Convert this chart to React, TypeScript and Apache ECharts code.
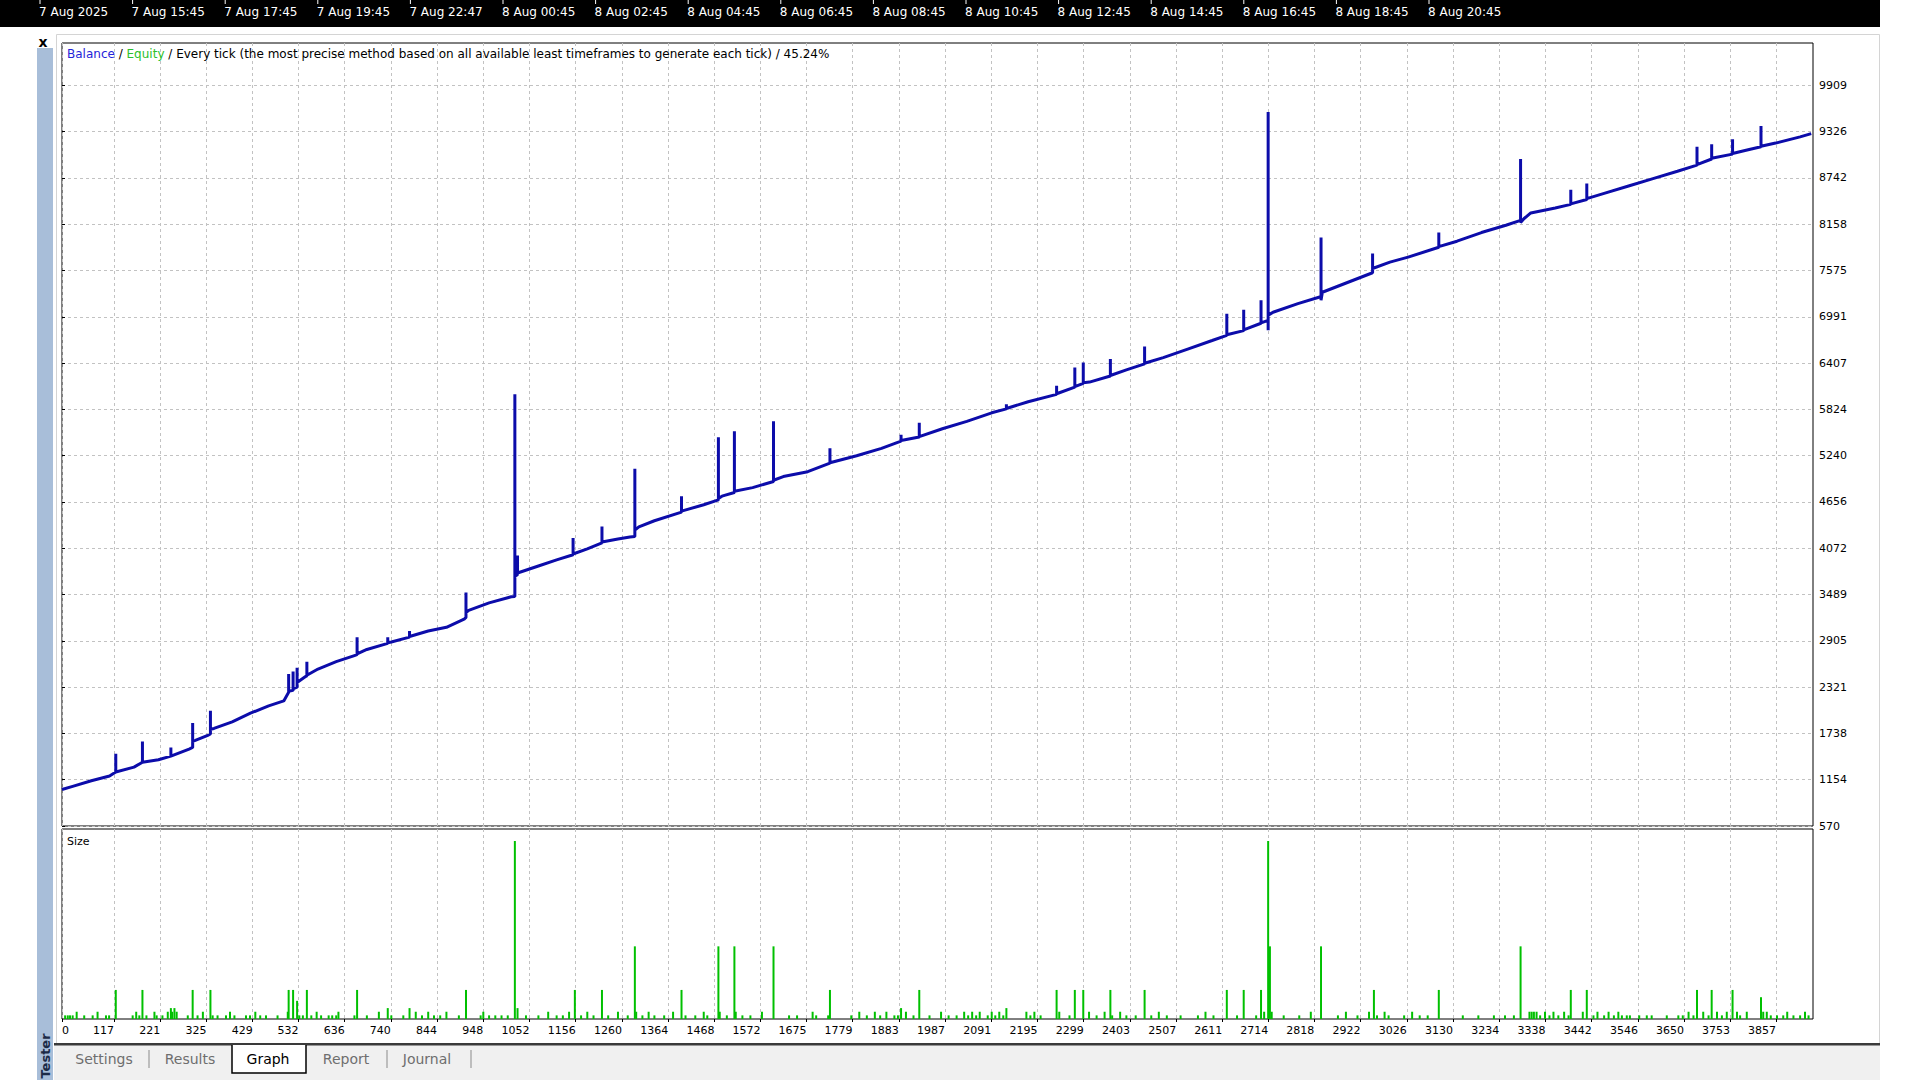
import React, { useEffect, useRef } from "react";
import * as echarts from "echarts";

const timeLabels = ["7 Aug 2025", "7 Aug 15:45", "7 Aug 17:45", "7 Aug 19:45", "7 Aug 22:47", "8 Aug 00:45", "8 Aug 02:45", "8 Aug 04:45", "8 Aug 06:45", "8 Aug 08:45", "8 Aug 10:45", "8 Aug 12:45", "8 Aug 14:45", "8 Aug 16:45", "8 Aug 18:45", "8 Aug 20:45"];
const tradeTicks = [0, 117, 221, 325, 429, 532, 636, 740, 844, 948, 1052, 1156, 1260, 1364, 1468, 1572, 1675, 1779, 1883, 1987, 2091, 2195, 2299, 2403, 2507, 2611, 2714, 2818, 2922, 3026, 3130, 3234, 3338, 3442, 3546, 3650, 3753, 3857];
const balanceTicks = [570, 1154, 1738, 2321, 2905, 3489, 4072, 4656, 5240, 5824, 6407, 6991, 7575, 8158, 8742, 9326, 9909];
const tabs = ["Settings", "Results", "Graph", "Report", "Journal"];
const titleText = "Every tick (the most precise method based on all available least timeframes to generate each tick) / 45.24%";

// balance curve: [trade #, balance]
const balance: [number, number][] = [
  [0, 1030], [24, 1070], [66, 1140], [107, 1200], [121, 1250], [121, 1482], [121, 1250], [162, 1312], [181, 1374], [181, 1637], [181, 1374], [217, 1405], [245, 1451], [245, 1559], [245, 1451], [286, 1540], [294, 1560], [294, 1869], [294, 1637], [300, 1650], [328, 1714], [334, 1730], [334, 2023], [334, 1790], [342, 1800], [383, 1884], [424, 1992], [465, 2085], [499, 2147], [510, 2255], [510, 2487], [510, 2270], [520, 2280], [520, 2518], [520, 2300], [529, 2320], [529, 2564], [529, 2380], [548, 2456], [551, 2460], [551, 2642], [551, 2470], [576, 2549], [617, 2642], [658, 2719], [664, 2730], [664, 2951], [664, 2740], [686, 2796], [733, 2873], [733, 2951], [733, 2880], [741, 2890], [782, 2951], [782, 3028], [782, 2960], [824, 3028], [865, 3075], [906, 3183], [909, 3200], [909, 3515], [909, 3260], [915, 3290], [961, 3384], [1011, 3461], [1019, 3465], [1019, 6015], [1019, 3720], [1025, 3740], [1025, 3980], [1025, 3760], [1072, 3848], [1113, 3925], [1150, 3990], [1150, 4200], [1150, 4000], [1182, 4064], [1215, 4141], [1215, 4345], [1215, 4150], [1251, 4188], [1278, 4214], [1289, 4220], [1289, 5075], [1289, 4300], [1298, 4342], [1333, 4419], [1394, 4528], [1394, 4729], [1394, 4540], [1444, 4621], [1477, 4682], [1477, 5471], [1477, 4700], [1485, 4729], [1513, 4775], [1513, 5548], [1513, 4790], [1554, 4837], [1601, 4914], [1601, 5672], [1601, 4930], [1623, 4976], [1678, 5038], [1728, 5146], [1728, 5332], [1728, 5150], [1788, 5239], [1844, 5332], [1888, 5424], [1888, 5502], [1888, 5430], [1926, 5471], [1929, 5475], [1929, 5656], [1929, 5480], [1981, 5579], [2036, 5672], [2092, 5780], [2125, 5830], [2125, 5888], [2125, 5835], [2174, 5919], [2238, 6012], [2238, 6120], [2238, 6020], [2279, 6105], [2279, 6352], [2279, 6110], [2298, 6150], [2298, 6414], [2298, 6160], [2312, 6167], [2359, 6244], [2359, 6460], [2359, 6250], [2395, 6321], [2436, 6398], [2436, 6615], [2436, 6405], [2478, 6476], [2533, 6584], [2588, 6692], [2621, 6757], [2621, 7030], [2621, 6765], [2659, 6816], [2659, 7081], [2659, 6825], [2698, 6909], [2698, 7200], [2698, 6915], [2714, 6946], [2714, 9573], [2714, 6820], [2714, 7010], [2725, 7048], [2781, 7156], [2830, 7240], [2833, 7245], [2833, 7989], [2833, 7200], [2836, 7300], [2891, 7420], [2946, 7540], [2949, 7545], [2949, 7788], [2949, 7600], [2988, 7680], [3029, 7743], [3098, 7867], [3098, 8053], [3098, 7875], [3139, 7944], [3194, 8053], [3249, 8145], [3282, 8207], [3282, 8980], [3282, 8180], [3290, 8230], [3305, 8300], [3360, 8362], [3395, 8408], [3395, 8594], [3395, 8415], [3431, 8470], [3431, 8671], [3431, 8480], [3470, 8547], [3525, 8640], [3580, 8733], [3635, 8826], [3679, 8903], [3679, 9135], [3679, 8910], [3712, 8980], [3712, 9166], [3712, 8990], [3759, 9042], [3759, 9228], [3759, 9050], [3787, 9088], [3823, 9135], [3823, 9398], [3823, 9140], [3856, 9181], [3911, 9259], [3936, 9300]
];

// lot sizes: [trade #, size]
const sizeBars: [number, number][] = [
  [7, 0.01], [13, 0.01], [18, 0.01], [24, 0.01], [33, 0.02], [50, 0.01], [69, 0.01], [80, 0.02], [99, 0.01], [106, 0.01], [121, 0.08], [159, 0.01], [167, 0.02], [174, 0.01], [181, 0.08], [190, 0.01], [208, 0.02], [213, 0.01], [226, 0.01], [238, 0.02], [245, 0.03], [248, 0.02], [253, 0.03], [258, 0.02], [283, 0.01], [294, 0.08], [305, 0.01], [317, 0.02], [334, 0.08], [339, 0.01], [350, 0.01], [369, 0.01], [378, 0.02], [388, 0.01], [414, 0.01], [423, 0.01], [435, 0.02], [446, 0.01], [459, 0.01], [485, 0.01], [508, 0.02], [510, 0.08], [520, 0.08], [529, 0.05], [534, 0.01], [542, 0.01], [551, 0.08], [561, 0.01], [573, 0.02], [583, 0.01], [600, 0.01], [608, 0.01], [617, 0.01], [622, 0.02], [658, 0.01], [664, 0.08], [686, 0.01], [713, 0.02], [733, 0.03], [741, 0.01], [768, 0.01], [782, 0.03], [796, 0.02], [810, 0.01], [824, 0.02], [837, 0.01], [851, 0.01], [865, 0.02], [893, 0.01], [909, 0.08], [942, 0.01], [948, 0.02], [961, 0.01], [975, 0.01], [989, 0.01], [1003, 0.01], [1019, 0.49], [1025, 0.03], [1044, 0.01], [1072, 0.01], [1094, 0.02], [1113, 0.01], [1127, 0.01], [1141, 0.02], [1154, 0.08], [1168, 0.01], [1182, 0.02], [1196, 0.01], [1215, 0.08], [1229, 0.01], [1251, 0.02], [1273, 0.01], [1289, 0.2], [1292, 0.02], [1306, 0.01], [1320, 0.02], [1333, 0.01], [1355, 0.01], [1375, 0.02], [1394, 0.08], [1403, 0.01], [1425, 0.01], [1444, 0.02], [1452, 0.01], [1477, 0.2], [1480, 0.02], [1496, 0.01], [1513, 0.2], [1516, 0.02], [1531, 0.01], [1549, 0.01], [1575, 0.02], [1601, 0.2], [1636, 0.01], [1654, 0.01], [1689, 0.02], [1697, 0.01], [1724, 0.01], [1728, 0.08], [1776, 0.01], [1794, 0.02], [1811, 0.01], [1829, 0.02], [1841, 0.01], [1855, 0.02], [1873, 0.01], [1881, 0.01], [1888, 0.03], [1899, 0.02], [1916, 0.01], [1929, 0.08], [1952, 0.01], [1978, 0.02], [1995, 0.01], [2013, 0.01], [2030, 0.02], [2039, 0.01], [2048, 0.02], [2057, 0.01], [2065, 0.02], [2083, 0.01], [2092, 0.02], [2100, 0.01], [2109, 0.02], [2118, 0.01], [2125, 0.03], [2170, 0.02], [2179, 0.01], [2188, 0.02], [2202, 0.01], [2238, 0.08], [2244, 0.02], [2267, 0.01], [2279, 0.08], [2298, 0.08], [2311, 0.02], [2328, 0.01], [2346, 0.02], [2359, 0.08], [2363, 0.01], [2381, 0.02], [2395, 0.01], [2416, 0.01], [2436, 0.08], [2451, 0.01], [2468, 0.02], [2486, 0.01], [2517, 0.01], [2556, 0.01], [2573, 0.02], [2591, 0.01], [2621, 0.08], [2644, 0.01], [2659, 0.08], [2687, 0.01], [2698, 0.08], [2705, 0.02], [2714, 0.49], [2718, 0.2], [2722, 0.02], [2749, 0.01], [2784, 0.01], [2810, 0.02], [2833, 0.2], [2871, 0.01], [2889, 0.02], [2915, 0.01], [2941, 0.02], [2952, 0.08], [2959, 0.01], [2976, 0.02], [2985, 0.01], [3020, 0.01], [3038, 0.02], [3055, 0.01], [3073, 0.01], [3098, 0.08], [3152, 0.01], [3187, 0.01], [3222, 0.01], [3247, 0.01], [3267, 0.01], [3282, 0.2], [3302, 0.02], [3307, 0.02], [3312, 0.02], [3318, 0.02], [3326, 0.01], [3337, 0.02], [3347, 0.01], [3356, 0.02], [3367, 0.01], [3380, 0.02], [3390, 0.01], [3395, 0.08], [3422, 0.02], [3431, 0.08], [3446, 0.01], [3455, 0.02], [3470, 0.01], [3480, 0.02], [3492, 0.01], [3502, 0.02], [3510, 0.01], [3521, 0.01], [3528, 0.01], [3549, 0.01], [3566, 0.01], [3577, 0.01], [3611, 0.01], [3637, 0.01], [3647, 0.01], [3660, 0.02], [3671, 0.01], [3679, 0.08], [3693, 0.02], [3705, 0.01], [3712, 0.08], [3724, 0.02], [3735, 0.01], [3746, 0.02], [3759, 0.08], [3769, 0.02], [3776, 0.01], [3791, 0.02], [3823, 0.06], [3828, 0.02], [3836, 0.02], [3845, 0.01], [3859, 0.01], [3873, 0.01], [3882, 0.02], [3896, 0.01], [3911, 0.01], [3922, 0.02], [3930, 0.01]
];

const FONT = "DejaVu Sans";

export default function App() {
  const ref = useRef<HTMLDivElement>(null);
  useEffect(() => {
    if (!ref.current) return;
    const chart = echarts.init(ref.current, null, { renderer: "svg" });
    const gridLine = { show: true, lineStyle: { color: "#c2c2c2", width: 1, type: [3, 3] as any } };
    const graphics: any[] = [];
    // top black time bar
    graphics.push({ type: "rect", shape: { x: 0, y: 0, width: 1880, height: 27 }, style: { fill: "#000" }, silent: true });
    timeLabels.forEach((t, i) => {
      const x = 40 + i * 92.6;
      graphics.push({ type: "line", shape: { x1: x, y1: 0, x2: x, y2: 4 }, style: { stroke: "#fff", lineWidth: 1 }, silent: true });
      graphics.push({ type: "text", x: x - 1, y: 12, style: { text: t, fill: "#fff", fontSize: 12, fontFamily: FONT, align: "left", verticalAlign: "middle" }, silent: true });
    });
    // window frame
    graphics.push({ type: "rect", shape: { x: 56.5, y: 34.5, width: 1823, height: 1009 }, style: { fill: "none", stroke: "#d4d4d4", lineWidth: 1 }, silent: true });
    // sidebar
    graphics.push({ type: "rect", shape: { x: 37, y: 48, width: 16, height: 1032 }, style: { fill: "#a8bed9" }, silent: true });
    graphics.push({ type: "text", x: 43, y: 42, style: { text: "x", fill: "#000", fontSize: 14, fontWeight: "bold", fontFamily: FONT, align: "center", verticalAlign: "middle" }, silent: true });
    graphics.push({ type: "text", x: 45, y: 1056, rotation: Math.PI / 2, style: { text: "Tester", fill: "#1c2b47", fontSize: 13, fontWeight: "bold", fontFamily: FONT, align: "center", verticalAlign: "middle" }, silent: true });
    // tab strip
    graphics.push({ type: "rect", shape: { x: 54, y: 1045, width: 1826, height: 35 }, style: { fill: "#f0f0f0" }, silent: true });
    graphics.push({ type: "rect", shape: { x: 54, y: 1043, width: 1826, height: 2.5 }, style: { fill: "#3a3a3a" }, silent: true });
    graphics.push({ type: "rect", shape: { x: 232, y: 1045, width: 74, height: 28 }, style: { fill: "#fff" }, silent: true });
    graphics.push({ type: "polyline", shape: { points: [[232, 1045], [232, 1073], [306, 1073], [306, 1045]] }, style: { stroke: "#000", lineWidth: 1.5, fill: "none" }, silent: true });
    const tabX = [104, 190, 268, 346, 427];
    tabs.forEach((t, i) => {
      graphics.push({ type: "text", x: tabX[i], y: 1059, style: { text: t, fill: t === "Graph" ? "#000" : "#6e6e6e", fontSize: 14, fontFamily: FONT, align: "center", verticalAlign: "middle" }, silent: true });
    });
    [149, 387, 471].forEach((x) => {
      graphics.push({ type: "line", shape: { x1: x, y1: 1050, x2: x, y2: 1068 }, style: { stroke: "#8a8a8a", lineWidth: 1 }, silent: true });
    });
    // title and panel label
    graphics.push({
      type: "text", x: 67, y: 54,
      style: {
        text: "{b|Balance} / {e|Equity} / " + titleText,
        fill: "#000", fontSize: 12, fontFamily: FONT, align: "left", verticalAlign: "middle",
        rich: {
          b: { fill: "#2424d8", fontSize: 12, fontFamily: FONT },
          e: { fill: "#2cbf2c", fontSize: 12, fontFamily: FONT },
        },
      },
      silent: true, z: 100,
    });
    graphics.push({ type: "text", x: 67, y: 841, style: { text: "Size", fill: "#000", fontSize: 11, fontFamily: FONT, align: "left", verticalAlign: "middle" }, silent: true, z: 100 });

    const xCommon = {
      type: "value" as const, min: 0, max: 3940,
      axisLine: { show: false },
      splitLine: gridLine,
    };
    const option: any = {
      animation: false,
      backgroundColor: "#fff",
      grid: [
        { left: 62, top: 43, width: 1751, height: 783, show: true, borderColor: "#000", borderWidth: 1, backgroundColor: "#fff" },
        { left: 62, top: 829, width: 1751, height: 190, show: true, borderColor: "#000", borderWidth: 1, backgroundColor: "#fff" },
      ],
      xAxis: [
        { ...xCommon, gridIndex: 0, axisTick: { show: false, customValues: tradeTicks }, axisLabel: { show: false, customValues: tradeTicks } },
        {
          ...xCommon, gridIndex: 1,
          axisTick: { show: true, customValues: tradeTicks, length: 3, lineStyle: { color: "#000" } },
          axisLabel: { show: true, customValues: tradeTicks, formatter: (v: number) => String(v), align: "right", alignMinLabel: "left", margin: 6, fontSize: 11, fontFamily: FONT, color: "#000" },
        },
      ],
      yAxis: [
        {
          type: "value", gridIndex: 0, position: "right", min: 570, max: 10443,
          axisLine: { show: false },
          axisTick: { show: true, customValues: balanceTicks, length: 3, lineStyle: { color: "#000" } },
          axisLabel: { show: true, customValues: balanceTicks, formatter: (v: number) => String(v), margin: 6, fontSize: 11, fontFamily: FONT, color: "#000" },
          splitLine: gridLine,
        },
        { type: "value", gridIndex: 1, min: 0, max: 0.523, show: false, splitLine: { show: false } },
      ],
      series: [
        {
          type: "line", xAxisIndex: 0, yAxisIndex: 0, data: balance, showSymbol: false, silent: true,
          lineStyle: { color: "#0c0caa", width: 3 }, z: 5,
        },
        {
          type: "bar", xAxisIndex: 1, yAxisIndex: 1, data: sizeBars, barWidth: 2, silent: true,
          itemStyle: { color: "#00c000" },
        },
      ],
      graphic: { elements: graphics },
    };
    chart.setOption(option);
    return () => chart.dispose();
  }, []);
  return <div ref={ref} style={{ position: "fixed", left: 0, top: 0, width: 1920, height: 1080, background: "#fff" }} />;
}
